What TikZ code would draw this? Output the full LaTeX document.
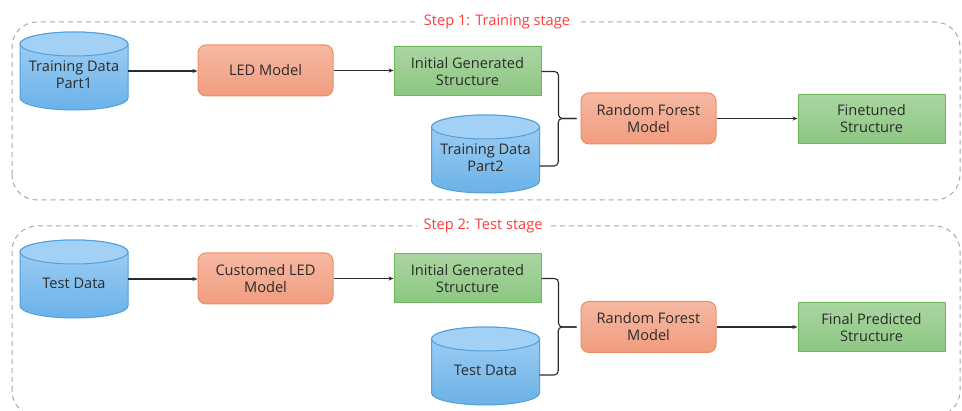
\documentclass[tikz,border=0pt]{standalone}
\usepackage{fontspec}
\setmainfont{Open Sans}
\usetikzlibrary{arrows.meta}

\definecolor{inkgray}{HTML}{2B2B2B}
\definecolor{stagered}{HTML}{FF3B3B}
\definecolor{panelgray}{HTML}{A8A8A8}
\definecolor{drumtop}{HTML}{A3D1F5}
\definecolor{drumlow}{HTML}{6BB1E8}
\definecolor{drumedge}{HTML}{4FA0DC}
\definecolor{modeltop}{HTML}{F6B9A3}
\definecolor{modellow}{HTML}{F19C7F}
\definecolor{modeledge}{HTML}{EE8B62}
\definecolor{structtop}{HTML}{AAD6A1}
\definecolor{structlow}{HTML}{8CC681}
\definecolor{structedge}{HTML}{6BB85C}

% text inside a drum sits a little below the drum's centre
\newcommand\lowered[1]{\raisebox{-6pt}[\height][\depth]{%
  \renewcommand\arraystretch{1.0}\begin{tabular}{@{}c@{}}#1\end{tabular}}}

% data store drawn as a cylinder: name, centre, text
\newcommand\datadrum[3]{%
  \path #2 coordinate (#1-c);
  \path[top color=drumtop, bottom color=drumlow, draw=drumedge, line width=1pt]
    ([shift={(-54,-27)}]#1-c) arc[start angle=180, end angle=360, x radius=54, y radius=12]
    -- ++(0,54) arc[start angle=0, end angle=180, x radius=54, y radius=12] -- cycle;
  \path[fill=drumtop, draw=drumedge, line width=1pt]
    ([shift={(0,27)}]#1-c) ellipse[x radius=54, y radius=12];
  \node[drum] (#1) at (#1-c) {\lowered{#3}};
}

\begin{document}
\begin{tikzpicture}[x=1pt, y=1pt,
  font=\fontsize{14.6}{17}\selectfont,
  every node/.style={text=inkgray},
  panel/.style={draw=panelgray, line width=1pt, dash pattern=on 5pt off 4pt, rounded corners=25pt},
  stagetitle/.style={fill=white, text=stagered, inner xsep=7pt, inner ysep=2pt,
    font=\fontsize{14.6}{17}\selectfont},
  drum/.style={rectangle, minimum width=108pt, minimum height=78pt, inner sep=0pt},
  model/.style={rectangle, rounded corners=8pt, top color=modeltop, bottom color=modellow,
    draw=modeledge, line width=1pt, minimum width=135pt, minimum height=51pt, align=center, inner sep=2pt},
  struct/.style={rectangle, top color=structtop, bottom color=structlow,
    draw=structedge, line width=1pt, minimum width=147pt, minimum height=49pt, align=center, inner sep=2pt},
  arrow/.style={draw=inkgray, line width=1.1pt, -{Stealth[length=5pt, width=4pt]}},
  link/.style={draw=inkgray, line width=1.1pt, rounded corners=4pt}]

\useasboundingbox (0,0) rectangle (962,410);
\clip (0,0) rectangle (962,410);

% stage frames
\draw[panel] (12,210) rectangle (960,388);
\draw[panel] (12,-6) rectangle (960,184);
\node[stagetitle] (title1) at (497,388) {Step 1: Training stage};
\node[stagetitle] (title2) at (483,184) {Step 2: Test stage};

% ---- training stage ----
\datadrum{train1}{(74,339)}{Training Data\\Part1}
\node[model] (led) at (265.5,339.5) {LED Model};
\node[struct] (igs1) at (467.5,338.5) {Initial Generated\\Structure};
\datadrum{train2}{(485.5,256)}{Training Data\\Part2}
\node[model] (rf1) at (648.5,291.5) {Random Forest\\Model};
\node[struct] (tuned) at (871.5,291) {Finetuned\\Structure};

\draw[arrow] (train1.east) -- (train1.east -| led.west);
\draw[arrow] (led.east) -- (led.east -| igs1.west);
\draw[link] (igs1.east) -- ++(17,0) |- ([xshift=-4pt]rf1.west);
\draw[link] ([yshift=-12pt]train2.east) -- ++(18.5,0) |- ([xshift=-4pt]rf1.west);
\draw[arrow] (rf1.east) -- (rf1.east -| tuned.west);

% ---- test stage ----
\datadrum{test1}{(74,131)}{Test Data}
\node[model] (cled) at (265.5,131.5) {Customed LED\\Model};
\node[struct] (igs2) at (467.5,131.5) {Initial Generated\\Structure};
\datadrum{test2}{(485.5,44)}{Test Data}
\node[model] (rf2) at (648.5,83) {Random Forest\\Model};
\node[struct] (final) at (871.5,82.5) {Final Predicted\\Structure};

\draw[arrow] (test1.east) -- (test1.east -| cled.west);
\draw[arrow] (cled.east) -- (cled.east -| igs2.west);
\draw[link] (igs2.east) -- ++(17,0) |- ([xshift=-4pt]rf2.west);
\draw[link] ([yshift=-9pt]test2.east) -- ++(18.5,0) |- ([xshift=-4pt]rf2.west);
\draw[arrow] (rf2.east) -- (rf2.east -| final.west);

\end{tikzpicture}
\end{document}
